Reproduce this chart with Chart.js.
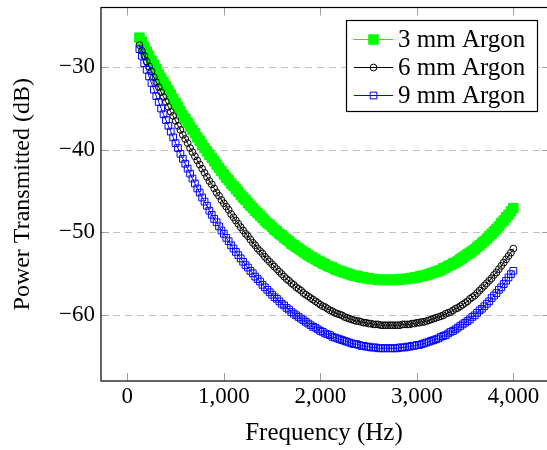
<!DOCTYPE html>
<html lang="en">
<head>
<meta charset="UTF-8" />
<title>Power Transmitted vs Frequency</title>
<script src="https://cdn.jsdelivr.net/npm/chart.js"></script>
<style>
  html, body { margin: 0; padding: 0; background: #fff; }
</style>
</head>
<body>
<canvas id="chart" width="547" height="450"></canvas>
<script>
// frequency samples (Hz)
const freqs = [
  125, 150, 175, 200, 225, 250, 275, 300, 325, 350,
  375, 400, 425, 450, 475, 500, 525, 550, 575, 600,
  625, 650, 675, 700, 725, 750, 775, 800, 825, 850,
  875, 900, 925, 950, 975, 1000, 1025, 1050, 1075, 1100,
  1125, 1150, 1175, 1200, 1225, 1250, 1275, 1300, 1325, 1350,
  1375, 1400, 1425, 1450, 1475, 1500, 1525, 1550, 1575, 1600,
  1625, 1650, 1675, 1700, 1725, 1750, 1775, 1800, 1825, 1850,
  1875, 1900, 1925, 1950, 1975, 2000, 2025, 2050, 2075, 2100,
  2125, 2150, 2175, 2200, 2225, 2250, 2275, 2300, 2325, 2350,
  2375, 2400, 2425, 2450, 2475, 2500, 2525, 2550, 2575, 2600,
  2625, 2650, 2675, 2700, 2725, 2750, 2775, 2800, 2825, 2850,
  2875, 2900, 2925, 2950, 2975, 3000, 3025, 3050, 3075, 3100,
  3125, 3150, 3175, 3200, 3225, 3250, 3275, 3300, 3325, 3350,
  3375, 3400, 3425, 3450, 3475, 3500, 3525, 3550, 3575, 3600,
  3625, 3650, 3675, 3700, 3725, 3750, 3775, 3800, 3825, 3850,
  3875, 3900, 3925, 3950, 3975, 4000
];

// power transmitted (dB)
const argon3mm = [
  -26.4, -26.9, -27.5, -28.1, -28.6, -29.2, -29.7, -30.2, -30.8, -31.3,
  -31.8, -32.3, -32.8, -33.3, -33.8, -34.3, -34.8, -35.3, -35.8, -36.2,
  -36.7, -37.2, -37.6, -38.0, -38.5, -38.9, -39.4, -39.8, -40.2, -40.6,
  -41.0, -41.4, -41.8, -42.2, -42.6, -43.0, -43.4, -43.7, -44.1, -44.4,
  -44.8, -45.1, -45.5, -45.8, -46.1, -46.5, -46.8, -47.1, -47.4, -47.7,
  -48.0, -48.3, -48.6, -48.9, -49.1, -49.4, -49.7, -49.9, -50.2, -50.4,
  -50.7, -50.9, -51.1, -51.4, -51.6, -51.8, -52.0, -52.2, -52.4, -52.6,
  -52.8, -53.0, -53.1, -53.3, -53.5, -53.6, -53.8, -53.9, -54.1, -54.2,
  -54.3, -54.5, -54.6, -54.7, -54.8, -54.9, -55.0, -55.1, -55.2, -55.3,
  -55.3, -55.4, -55.5, -55.5, -55.6, -55.6, -55.7, -55.7, -55.7, -55.8,
  -55.8, -55.8, -55.8, -55.8, -55.8, -55.8, -55.8, -55.8, -55.7, -55.7,
  -55.7, -55.7, -55.6, -55.6, -55.5, -55.5, -55.4, -55.3, -55.3, -55.2,
  -55.1, -55.0, -54.9, -54.8, -54.7, -54.6, -54.4, -54.3, -54.1, -54.0,
  -53.8, -53.7, -53.5, -53.3, -53.1, -52.9, -52.7, -52.5, -52.3, -52.1,
  -51.8, -51.6, -51.3, -51.1, -50.8, -50.5, -50.2, -49.9, -49.6, -49.3,
  -48.9, -48.6, -48.2, -47.9, -47.5, -47.1
];
const argon6mm = [
  -27.3, -28.0, -28.6, -29.3, -29.9, -30.5, -31.2, -31.8, -32.4, -33.0,
  -33.6, -34.2, -34.8, -35.4, -35.9, -36.5, -37.1, -37.6, -38.2, -38.7,
  -39.2, -39.8, -40.3, -40.8, -41.3, -41.8, -42.3, -42.8, -43.3, -43.8,
  -44.2, -44.7, -45.2, -45.6, -46.1, -46.5, -46.9, -47.3, -47.8, -48.2,
  -48.6, -49.0, -49.4, -49.8, -50.2, -50.5, -50.9, -51.3, -51.6, -52.0,
  -52.3, -52.6, -53.0, -53.3, -53.6, -53.9, -54.2, -54.5, -54.8, -55.1,
  -55.4, -55.7, -55.9, -56.2, -56.4, -56.7, -56.9, -57.1, -57.4, -57.6,
  -57.8, -58.0, -58.2, -58.4, -58.6, -58.8, -59.0, -59.1, -59.3, -59.5,
  -59.6, -59.8, -59.9, -60.0, -60.1, -60.3, -60.4, -60.5, -60.6, -60.7,
  -60.8, -60.8, -60.9, -61.0, -61.0, -61.1, -61.1, -61.2, -61.2, -61.2,
  -61.3, -61.3, -61.3, -61.3, -61.3, -61.3, -61.3, -61.3, -61.3, -61.2,
  -61.2, -61.2, -61.2, -61.1, -61.1, -61.0, -61.0, -60.9, -60.9, -60.8,
  -60.7, -60.6, -60.5, -60.4, -60.3, -60.2, -60.1, -59.9, -59.8, -59.7,
  -59.5, -59.3, -59.2, -59.0, -58.8, -58.6, -58.4, -58.1, -57.9, -57.7,
  -57.4, -57.1, -56.8, -56.5, -56.2, -55.9, -55.6, -55.2, -54.9, -54.5,
  -54.1, -53.7, -53.3, -52.9, -52.5, -52.0
];
const argon9mm = [
  -27.8, -28.6, -29.5, -30.3, -31.1, -31.9, -32.7, -33.5, -34.2, -35.0,
  -35.7, -36.4, -37.1, -37.8, -38.5, -39.2, -39.8, -40.5, -41.1, -41.7,
  -42.3, -42.9, -43.5, -44.1, -44.7, -45.2, -45.8, -46.3, -46.8, -47.4,
  -47.9, -48.4, -48.8, -49.3, -49.8, -50.2, -50.7, -51.1, -51.6, -52.0,
  -52.4, -52.8, -53.2, -53.6, -54.0, -54.3, -54.7, -55.0, -55.4, -55.7,
  -56.0, -56.4, -56.7, -57.0, -57.3, -57.6, -57.9, -58.1, -58.4, -58.7,
  -58.9, -59.2, -59.4, -59.7, -59.9, -60.1, -60.3, -60.5, -60.7, -60.9,
  -61.1, -61.3, -61.5, -61.6, -61.8, -62.0, -62.1, -62.3, -62.4, -62.5,
  -62.7, -62.8, -62.9, -63.0, -63.1, -63.2, -63.3, -63.4, -63.5, -63.6,
  -63.6, -63.7, -63.8, -63.8, -63.9, -63.9, -64.0, -64.0, -64.0, -64.1,
  -64.1, -64.1, -64.1, -64.1, -64.1, -64.1, -64.1, -64.1, -64.0, -64.0,
  -64.0, -63.9, -63.9, -63.8, -63.8, -63.7, -63.7, -63.6, -63.5, -63.4,
  -63.3, -63.2, -63.1, -63.0, -62.9, -62.7, -62.6, -62.5, -62.3, -62.1,
  -62.0, -61.8, -61.6, -61.4, -61.2, -61.0, -60.8, -60.6, -60.3, -60.1,
  -59.8, -59.5, -59.3, -59.0, -58.7, -58.4, -58.0, -57.7, -57.4, -57.0,
  -56.7, -56.3, -55.9, -55.5, -55.1, -54.7
];

const seriesNames = ['3 mm Argon', '6 mm Argon', '9 mm Argon'];
const xTicks = [0, 1000, 2000, 3000, 4000];
const yTicks = [-60, -50, -40, -30];

const FONT = "'Liberation Serif', 'Times New Roman', serif";
const toPoints = ys => freqs.map((f, i) => ({ x: f, y: ys[i] }));
const minus = v => (v < 0 ? '\u2212' + Math.abs(v) : String(v));

// the axis box runs a few px past the right edge of the picture
const BOX_OVERHANG = 3;

// dashed grid, inner tick marks, frame and the boxed legend (pgfplots look)
const axisDecor = {
  id: 'axisDecor',
  beforeDatasetsDraw(chart) {
    const { ctx, chartArea: a, scales: { x, y } } = chart;
    const right = a.right + BOX_OVERHANG;
    const tl = 8;
    ctx.save();
    ctx.strokeStyle = '#c2c2c2';
    ctx.lineWidth = 1;
    ctx.setLineDash([7, 5]);
    yTicks.forEach(t => {
      const py = Math.round(y.getPixelForValue(t)) + 0.5;
      ctx.beginPath(); ctx.moveTo(a.left, py); ctx.lineTo(right, py); ctx.stroke();
    });
    ctx.setLineDash([]);
    ctx.strokeStyle = '#a0a0a0';
    xTicks.forEach(t => {
      const px = Math.round(x.getPixelForValue(t)) + 0.5;
      ctx.beginPath();
      ctx.moveTo(px, a.top); ctx.lineTo(px, a.top + tl);
      ctx.moveTo(px, a.bottom); ctx.lineTo(px, a.bottom - tl);
      ctx.stroke();
    });
    yTicks.forEach(t => {
      const py = Math.round(y.getPixelForValue(t)) + 0.5;
      ctx.beginPath();
      ctx.moveTo(a.left, py); ctx.lineTo(a.left + tl, py);
      ctx.moveTo(right, py); ctx.lineTo(right - tl, py);
      ctx.stroke();
    });
    ctx.restore();
  },
  afterDatasetsDraw(chart) {
    const { ctx, chartArea: a } = chart;
    const right = a.right + BOX_OVERHANG;
    ctx.save();
    ctx.strokeStyle = '#000';
    ctx.lineWidth = 1.2;
    ctx.strokeRect(a.left, a.top, right - a.left, a.bottom - a.top);
    ctx.restore();
  },
  afterDraw(chart) {
    const ctx = chart.ctx;
    const box = { left: 346.5, top: 20.5, right: 537.5, bottom: 111.5 };
    ctx.save();
    ctx.fillStyle = '#fff';
    ctx.fillRect(box.left, box.top, box.right - box.left, box.bottom - box.top);
    ctx.strokeStyle = '#000';
    ctx.lineWidth = 1.2;
    ctx.strokeRect(box.left, box.top, box.right - box.left, box.bottom - box.top);
    chart.data.datasets.forEach((ds, i) => {
      const cy = 39.5 + i * 28;
      const mx = 373.5;
      ctx.strokeStyle = ds.borderColor;
      ctx.lineWidth = 1;
      ctx.beginPath(); ctx.moveTo(354, cy); ctx.lineTo(393, cy); ctx.stroke();
      const r = ds.pointRadius;
      ctx.beginPath();
      if (ds.pointStyle === 'circle') {
        ctx.arc(mx, cy, r, 0, Math.PI * 2);
      } else {
        const s = r * Math.SQRT1_2;
        ctx.rect(mx - s, cy - s, 2 * s, 2 * s);
      }
      ctx.fillStyle = ds.pointBackgroundColor;
      ctx.fill();
      ctx.strokeStyle = ds.pointBorderColor;
      ctx.stroke();
      ctx.fillStyle = '#000';
      ctx.font = '25px ' + FONT;
      ctx.textBaseline = 'middle';
      ctx.fillText(ds.label, 398, cy + 1);
    });
    ctx.restore();
  }
};

new Chart(document.getElementById('chart'), {
  type: 'line',
  data: {
    datasets: [
      {
        label: seriesNames[0],
        data: toPoints(argon3mm),
        borderColor: '#00ff00',
        backgroundColor: '#00ff00',
        borderWidth: 1,
        pointStyle: 'rect',
        pointRadius: 6.7,
        pointBorderWidth: 1,
        pointBackgroundColor: '#00ff00',
        pointBorderColor: '#00ff00',
        order: 3
      },
      {
        label: seriesNames[1],
        data: toPoints(argon6mm),
        borderColor: '#000000',
        backgroundColor: 'rgba(0,0,0,0)',
        borderWidth: 1,
        pointStyle: 'circle',
        pointRadius: 3.4,
        pointBorderWidth: 1,
        pointBackgroundColor: 'rgba(0,0,0,0)',
        pointBorderColor: '#000000',
        order: 2
      },
      {
        label: seriesNames[2],
        data: toPoints(argon9mm),
        borderColor: '#0000ff',
        backgroundColor: 'rgba(0,0,0,0)',
        borderWidth: 1,
        pointStyle: 'rect',
        pointRadius: 4.75,
        pointBorderWidth: 1,
        pointBackgroundColor: 'rgba(0,0,0,0)',
        pointBorderColor: '#0000ff',
        order: 1
      }
    ]
  },
  options: {
    responsive: false,
    animation: false,
    devicePixelRatio: 1,
    layout: { autoPadding: false, padding: { top: 7.5, right: 0, bottom: 0, left: 0 } },
    elements: { line: { tension: 0 } },
    scales: {
      x: {
        type: 'linear',
        min: -273,
        max: 4349,
        afterBuildTicks: s => { s.ticks = xTicks.map(v => ({ value: v })); },
        afterFit: s => { s.height = 69; s.paddingLeft = 0; s.paddingRight = 0; },
        grid: { display: false, drawTicks: false },
        border: { display: false },
        ticks: {
          color: '#000',
          font: { family: FONT, size: 23 },
          padding: 2,
          maxRotation: 0,
          autoSkip: false,
          callback: v => v.toLocaleString('en-US')
        },
        title: {
          display: true,
          text: 'Frequency (Hz)',
          color: '#000',
          font: { family: FONT, size: 25 },
          padding: { top: 0, bottom: 2 }
        }
      },
      y: {
        min: -68.07,
        max: -22.74,
        afterBuildTicks: s => { s.ticks = yTicks.map(v => ({ value: v })); },
        afterFit: s => { s.width = 101; s.paddingTop = 0; s.paddingBottom = 0; },
        grid: { display: false, drawTicks: false },
        border: { display: false },
        ticks: {
          color: '#000',
          font: { family: FONT, size: 23 },
          padding: 6,
          autoSkip: false,
          callback: v => minus(v)
        },
        title: {
          display: true,
          text: 'Power Transmitted (dB)',
          color: '#000',
          font: { family: FONT, size: 24 },
          padding: { top: 8, bottom: 0 }
        }
      }
    },
    plugins: {
      legend: { display: false },
      tooltip: { enabled: false }
    }
  },
  plugins: [axisDecor]
});
</script>
</body>
</html>
